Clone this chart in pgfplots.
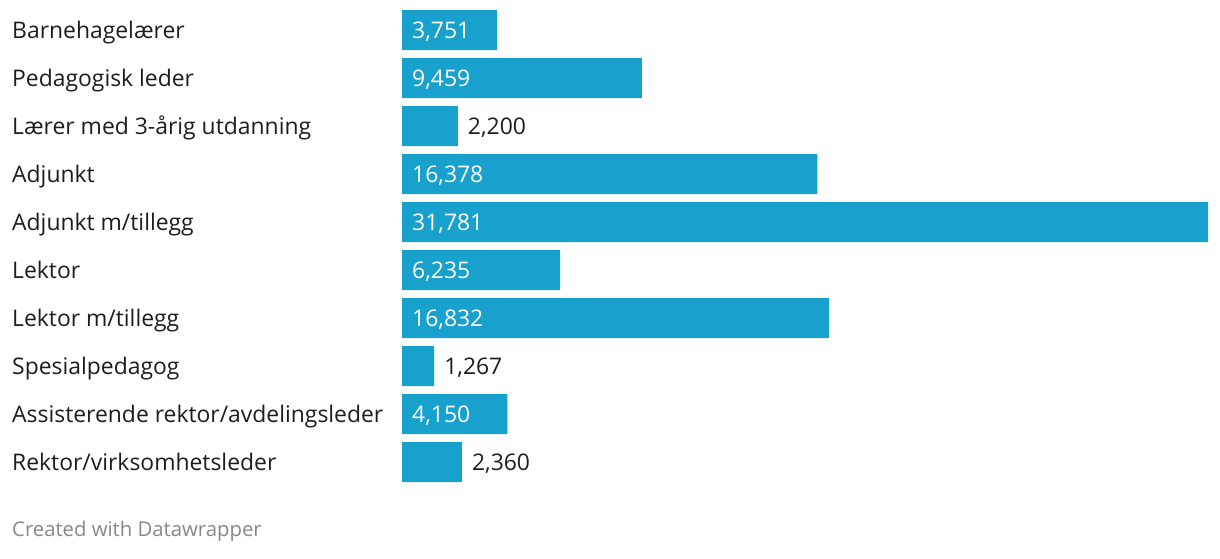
\documentclass[border=0pt]{standalone}
\usepackage{fontspec}
\setmainfont{Open Sans}
\usepackage{pgfplots}
\usepackage{pgfplotstable}
\pgfplotsset{compat=1.18}
\definecolor{barblue}{RGB}{24,161,205}
\definecolor{lab}{RGB}{29,29,29}
\definecolor{foot}{RGB}{136,136,136}

\pgfplotstableread{
idx value
0 3751
1 9459
2 2200
3 16378
4 31781
5 6235
6 16832
7 1267
8 4150
9 2360
}\bars

\pgfplotstableread{
idx base label
0 0 {3,751}
1 0 {9,459}
3 0 {16,378}
4 0 {31,781}
5 0 {6,235}
6 0 {16,832}
8 0 {4,150}
}\inside

\pgfplotstableread{
idx value label
2 2200 {2,200}
7 1267 {1,267}
9 2360 {2,360}
}\outside

\begin{document}
\begin{tikzpicture}
\path[use as bounding box] (0,0) rectangle (1220pt,558pt);
\begin{axis}[
  at={(402pt,548pt)}, anchor=north west,
  scale only axis, width=806pt, height=472pt,
  xmin=0, xmax=31781, ymin=-0.416667, ymax=9.416667,
  y dir=reverse, clip=false,
  axis line style={draw=none}, major tick length=0pt,
  xtick=\empty, ytick={0,...,9},
  yticklabels={Barnehagelærer, Pedagogisk leder, Lærer med 3-årig utdanning, Adjunkt, Adjunkt m/tillegg, Lektor, Lektor m/tillegg, Spesialpedagog, Assisterende rektor/avdelingsleder, Rektor/virksomhetsleder},
  yticklabel style={anchor=base west, xshift=-390pt, yshift=-8pt, inner sep=0pt, font=\fontsize{22.9}{26}\selectfont, text=lab},
]
\addplot[xbar, fill=barblue, draw=none, bar width=40pt] table[x=value, y=idx] {\bars};
\addplot[draw=none, mark=none, nodes near coords, point meta=explicit symbolic,
  every node near coord/.append style={anchor=base west, xshift=10pt, yshift=-8pt, inner sep=0pt, text=white, font=\fontsize{22.9}{26}\selectfont}]
  table[x=base, y=idx, meta=label] {\inside};
\addplot[draw=none, mark=none, nodes near coords, point meta=explicit symbolic,
  every node near coord/.append style={anchor=base west, xshift=10pt, yshift=-8pt, inner sep=0pt, text=lab, font=\fontsize{22.9}{26}\selectfont}]
  table[x=value, y=idx, meta=label] {\outside};
\end{axis}
\node[anchor=base west, inner sep=0pt, text=foot, font=\fontsize{20.3}{24}\selectfont] at (12pt,22pt) {Created with Datawrapper};
\end{tikzpicture}
\end{document}
